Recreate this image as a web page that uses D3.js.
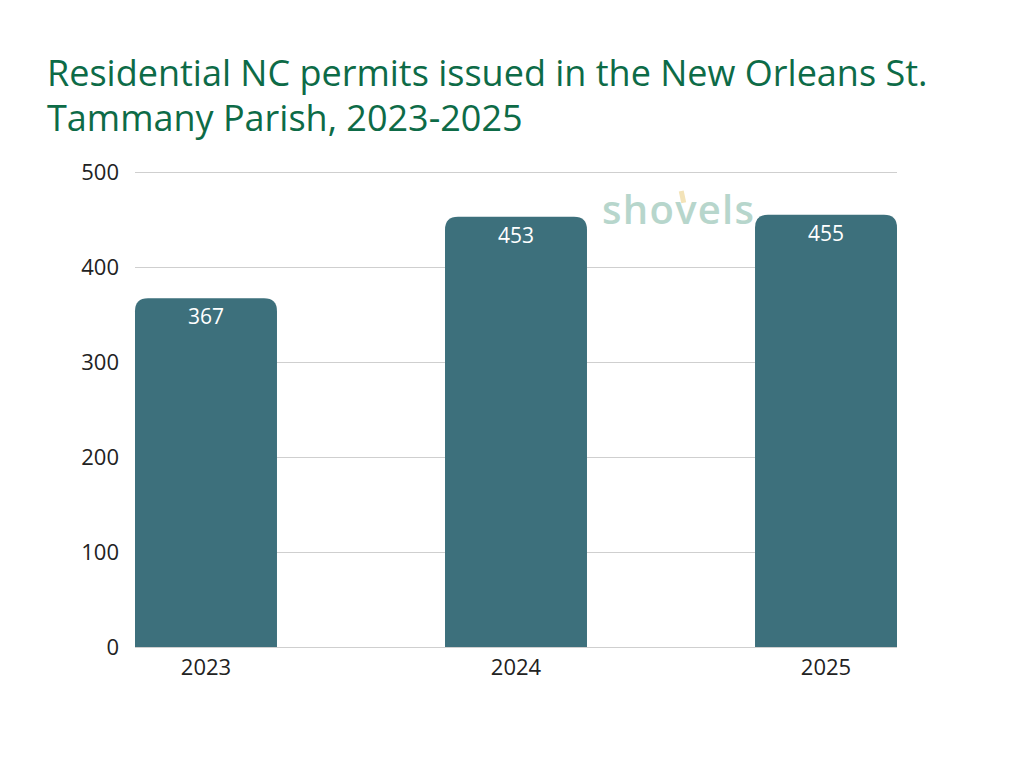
<!DOCTYPE html>
<html lang="en">
<head>
<meta charset="utf-8">
<title>Residential NC permits</title>
<script src="https://d3js.org/d3.v7.min.js"></script>
<style>
  body { margin: 0; background: #fff; }
  text { font-family: "Open Sans", "Noto Sans", sans-serif; }
  .grid line { stroke: #cfcfcf; stroke-width: 1; shape-rendering: crispEdges; }
  .grid path { display: none; }
  .axis path, .axis line { display: none; }
  .axis text { font-size: 22px; fill: #222; font-family: "Open Sans", sans-serif; }
</style>
</head>
<body>
<script>
// data
var years = ["2023", "2024", "2025"];
var permits = [367, 453, 455];
var yTicks = [0, 100, 200, 300, 400, 500];

var w = 1024, h = 768;
var mLeft = 135, mRight = 897, mTop = 172, mBottom = 647;

var svg = d3.select("body").append("svg").attr("width", w).attr("height", h);

// title
svg.append("text").attr("x", 47).attr("y", 86)
  .attr("font-size", 36).attr("fill", "#0d6b47")
  .selectAll("tspan")
  .data(["Residential NC permits issued in the New Orleans St.", "Tammany Parish, 2023-2025"])
  .enter().append("tspan")
  .attr("x", 47).attr("dy", function(d, i) { return i ? 45 : 0; })
  .text(function(d) { return d; });

var x = d3.scaleBand().domain(years).range([mLeft, mRight]).paddingInner(0.542).paddingOuter(0);
var y = d3.scaleLinear().domain([0, 500]).range([mBottom, mTop]);

// gridlines
svg.append("g").attr("class", "grid")
  .attr("transform", "translate(" + mLeft + ",0)")
  .call(d3.axisLeft(y).tickValues(yTicks).tickSize(-(mRight - mLeft)).tickFormat(""));

// y axis labels
svg.append("g").attr("class", "axis")
  .attr("transform", "translate(" + (mLeft - 16) + ",0)")
  .call(d3.axisLeft(y).tickValues(yTicks).tickSize(0))
  .selectAll("text").attr("dy", "0.35em").attr("x", 0);

// watermark logo
var logo = svg.append("g");
logo.append("text").attr("x", 602).attr("y", 224)
  .attr("font-size", 40).attr("font-weight", 600).attr("fill", "#b7d6cc")
  .attr("textLength", 152).text("shovels");
logo.append("rect").attr("x", 680).attr("y", 191).attr("width", 5).attr("height", 12)
  .attr("transform", "rotate(-12,682,197)").attr("fill", "#f3e3b8");

// bars with rounded top corners
var r = 13;
function barPath(d, i) {
  var x0 = x(years[i]), x1 = x0 + x.bandwidth(), y0 = y(d), yb = y(0);
  return "M" + x0 + "," + yb + "L" + x0 + "," + (y0 + r) +
    "Q" + x0 + "," + y0 + " " + (x0 + r) + "," + y0 +
    "L" + (x1 - r) + "," + y0 +
    "Q" + x1 + "," + y0 + " " + x1 + "," + (y0 + r) +
    "L" + x1 + "," + yb + "Z";
}
svg.append("g").selectAll("path").data(permits).enter().append("path")
  .attr("d", barPath).attr("fill", "#3d707c");

svg.append("g").selectAll("text").data(permits).enter().append("text")
  .attr("x", function(d, i) { return x(years[i]) + x.bandwidth() / 2; })
  .attr("y", function(d) { return y(d) + 26; })
  .attr("text-anchor", "middle").attr("font-size", 21).attr("fill", "#fff")
  .text(function(d) { return d; });

// x axis labels
svg.append("g").attr("class", "axis")
  .attr("transform", "translate(0," + mBottom + ")")
  .call(d3.axisBottom(x).tickSize(0).tickPadding(12));
</script>
</body>
</html>
